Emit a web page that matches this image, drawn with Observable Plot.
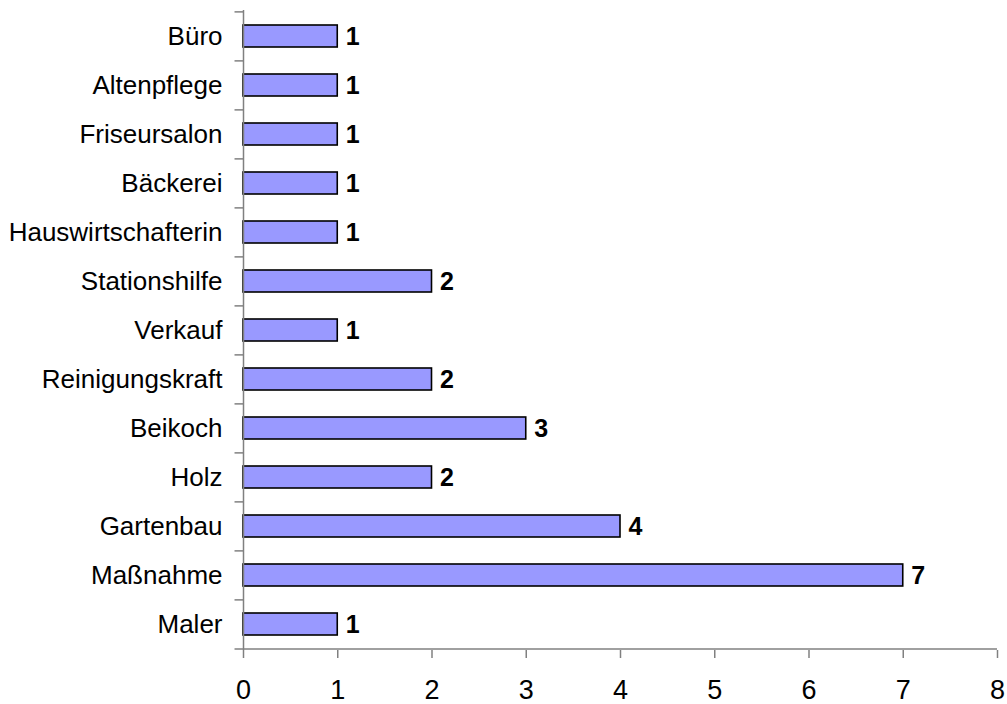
<!DOCTYPE html>
<html>
<head>
<meta charset="utf-8">
<script src="https://cdn.jsdelivr.net/npm/d3@7"></script>
<script src="https://cdn.jsdelivr.net/npm/@observablehq/plot@0.6"></script>
<style>
  body { margin: 0; background: #fff; }
  #chart svg { display: block; }
</style>
</head>
<body>
<div id="chart"></div>
<script>
const categories = ["Büro", "Altenpflege", "Friseursalon", "Bäckerei", "Hauswirtschafterin", "Stationshilfe", "Verkauf", "Reinigungskraft", "Beikoch", "Holz", "Gartenbau", "Maßnahme", "Maler"];
const counts = [1, 1, 1, 1, 1, 2, 1, 2, 3, 2, 4, 7, 1];
const xTicks = [0, 1, 2, 3, 4, 5, 6, 7, 8];

const data = categories.map((c, i) => ({category: c, value: counts[i]}));

const W = 1007, H = 704;
const mt = 10, mb = 54, ml = 243, mr = 10;
const step = (H - mt - mb) / categories.length;
const axisColor = "#808080";
const font = "Arial, 'Liberation Sans', sans-serif";

const chart = Plot.plot({
  width: W,
  height: H,
  marginTop: mt,
  marginBottom: mb,
  marginLeft: ml,
  marginRight: mr,
  style: {fontFamily: font, background: "#fff"},
  x: {domain: [0, 8]},
  y: {domain: categories, paddingInner: 0.55, paddingOuter: 0.275},
  marks: [
    Plot.barX(data, {x: "value", y: "category", fill: "#9999FF", stroke: "#000", strokeWidth: 1.6}),
    Plot.text(data, {x: "value", y: "category", text: d => String(d.value), textAnchor: "start", dx: 8, fontWeight: "bold", fontSize: 25, fill: "#000"}),
    // y axis line
    Plot.ruleX([0], {stroke: axisColor, strokeWidth: 1.5}),
    // y tick marks at band boundaries
    Plot.ruleY(categories, {y: d => d, x1: 0, x2: -0.09, dy: -step / 2, stroke: axisColor, strokeWidth: 1.5, clip: false}),
    Plot.ruleY([categories[categories.length - 1]], {y: d => d, x1: -0.09, x2: 8, dy: step / 2, stroke: axisColor, strokeWidth: 1.5, clip: false}),
    Plot.axisY({tickSize: 0, tickPadding: 21, fontSize: 26, fill: "#000", label: null}),
    Plot.axisX({ticks: xTicks, tickSize: 8, tickPadding: 21, fontSize: 27, stroke: axisColor, strokeWidth: 1.5, fill: "#000", label: null, tickFormat: d => String(d)})
  ]
});
document.getElementById("chart").appendChild(chart);
</script>
</body>
</html>
